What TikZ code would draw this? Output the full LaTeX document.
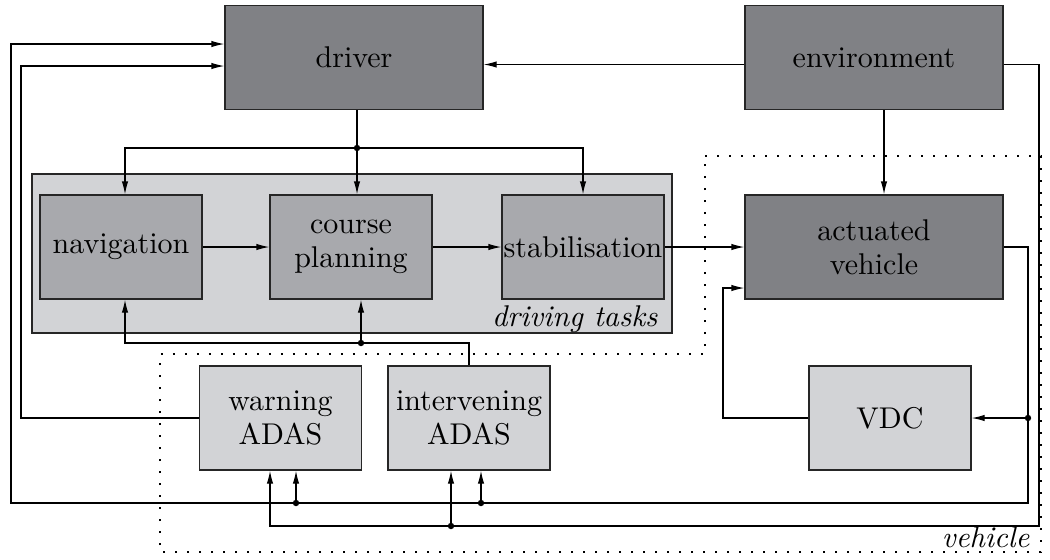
\documentclass[tikz,border=0pt]{standalone}
\usepackage{fontspec}
\setmainfont{lmroman10}[Extension=.otf,UprightFont=*-regular,ItalicFont=*-italic]
\usetikzlibrary{arrows.meta}
\definecolor{boxdark}{RGB}{128,129,133}
\definecolor{boxmid}{RGB}{168,169,173}
\definecolor{boxlight}{RGB}{210,211,214}
\begin{document}
\begin{tikzpicture}[x=0.5pt,y=-0.5pt,line width=0.6pt,
    block/.style={draw=black!85,minimum width=129pt,minimum height=52pt,inner sep=0pt,
        align=center,font=\fontsize{15}{17}\selectfont},
    smallblock/.style={block,minimum width=81pt},
    tag/.style={font=\fontsize{15}{17}\selectfont\itshape,inner sep=0pt},
    >={Latex[length=6.5pt,width=3.2pt]}]
    \useasboundingbox (0,0) rectangle (1050,559);
    \node[draw=black!85,fill=boxlight,minimum width=320pt,minimum height=79.5pt] (tasks) at (352,253.5) {};
    \node[tag,anchor=base east] at (658,326) {driving tasks};
    \draw[line width=1pt,dash pattern=on 0.9pt off 5.1pt]
        (705,156) -- (1041,156) -- (1041,552) -- (160,552) -- (160,354) -- (705,354) -- cycle;
    \node[tag,anchor=base east] at (1030,547) {vehicle};
    \node[block,fill=boxdark] (driver) at (354,57.5) {driver};
    \node[block,fill=boxdark] (environment) at (874,57.5) {environment};
    \node[block,fill=boxdark] (actuated) at (874,247) {actuated\\vehicle};
    \node[smallblock,fill=boxmid] (navigation) at (121,247) {navigation};
    \node[smallblock,fill=boxmid] (course) at (351,247) {course\\planning};
    \node[smallblock,fill=boxmid] (stabilisation) at (583,247) {stabilisation};
    \node[smallblock,fill=boxlight] (warning) at (280.5,418) {warning\\ADAS};
    \node[smallblock,fill=boxlight] (intervening) at (469,418) {intervening\\ADAS};
    \node[smallblock,fill=boxlight] (vdc) at (890,418) {VDC};
    \coordinate (split) at (357,148);
    \coordinate (cdot) at (361,343);
    \coordinate (vdcdot) at (1028,418);
    \coordinate (wdot) at (296,503);
    \coordinate (idot) at (481,503);
    \coordinate (edot) at (451,526);
    \draw (split |- driver.south) -- (split);
    \draw[->] (split) -| ([xshift=2pt]navigation.north);
    \draw[->] (split) -| (stabilisation.north);
    \draw[->] (split) -- (split |- course.north);
    \draw[->] (navigation) -- (course);
    \draw[->] (course) -- (stabilisation);
    \draw[->] (stabilisation) -- (actuated);
    \draw[->] ([yshift=-3.5pt]environment.west) -- ([yshift=-3.5pt]driver.east);
    \draw[->] ([xshift=5pt]environment.south) -- ([xshift=5pt]actuated.north);
    \draw[->] (actuated.east) -| (1028,503) -| (11,44) -- ([yshift=6.75pt]driver.west);
    \draw[->] (vdcdot) -- (vdc.east);
    \draw[->] (wdot) -- (wdot |- warning.south);
    \draw[->] (idot) -- (idot |- intervening.south);
    \draw[->] ([yshift=-3.5pt]environment.east) -| (1039,526) -| ([xshift=-5.25pt]warning.south);
    \draw[->] (edot) -- (edot |- intervening.south);
    \draw[->] (warning.west) -| (21,66) -- ([yshift=-4.25pt]driver.west);
    \draw[->] (vdc.west) -| (723,288) -- ([yshift=-20.5pt]actuated.west);
    \draw[->] (intervening.north) |- (125,343) -- ([xshift=2pt]navigation.south);
    \draw[->] (cdot) -- (cdot |- course.south);
    \foreach \p in {split,cdot,vdcdot,wdot,idot,edot}
        \fill (\p) circle (1.6pt);
\end{tikzpicture}
\end{document}
